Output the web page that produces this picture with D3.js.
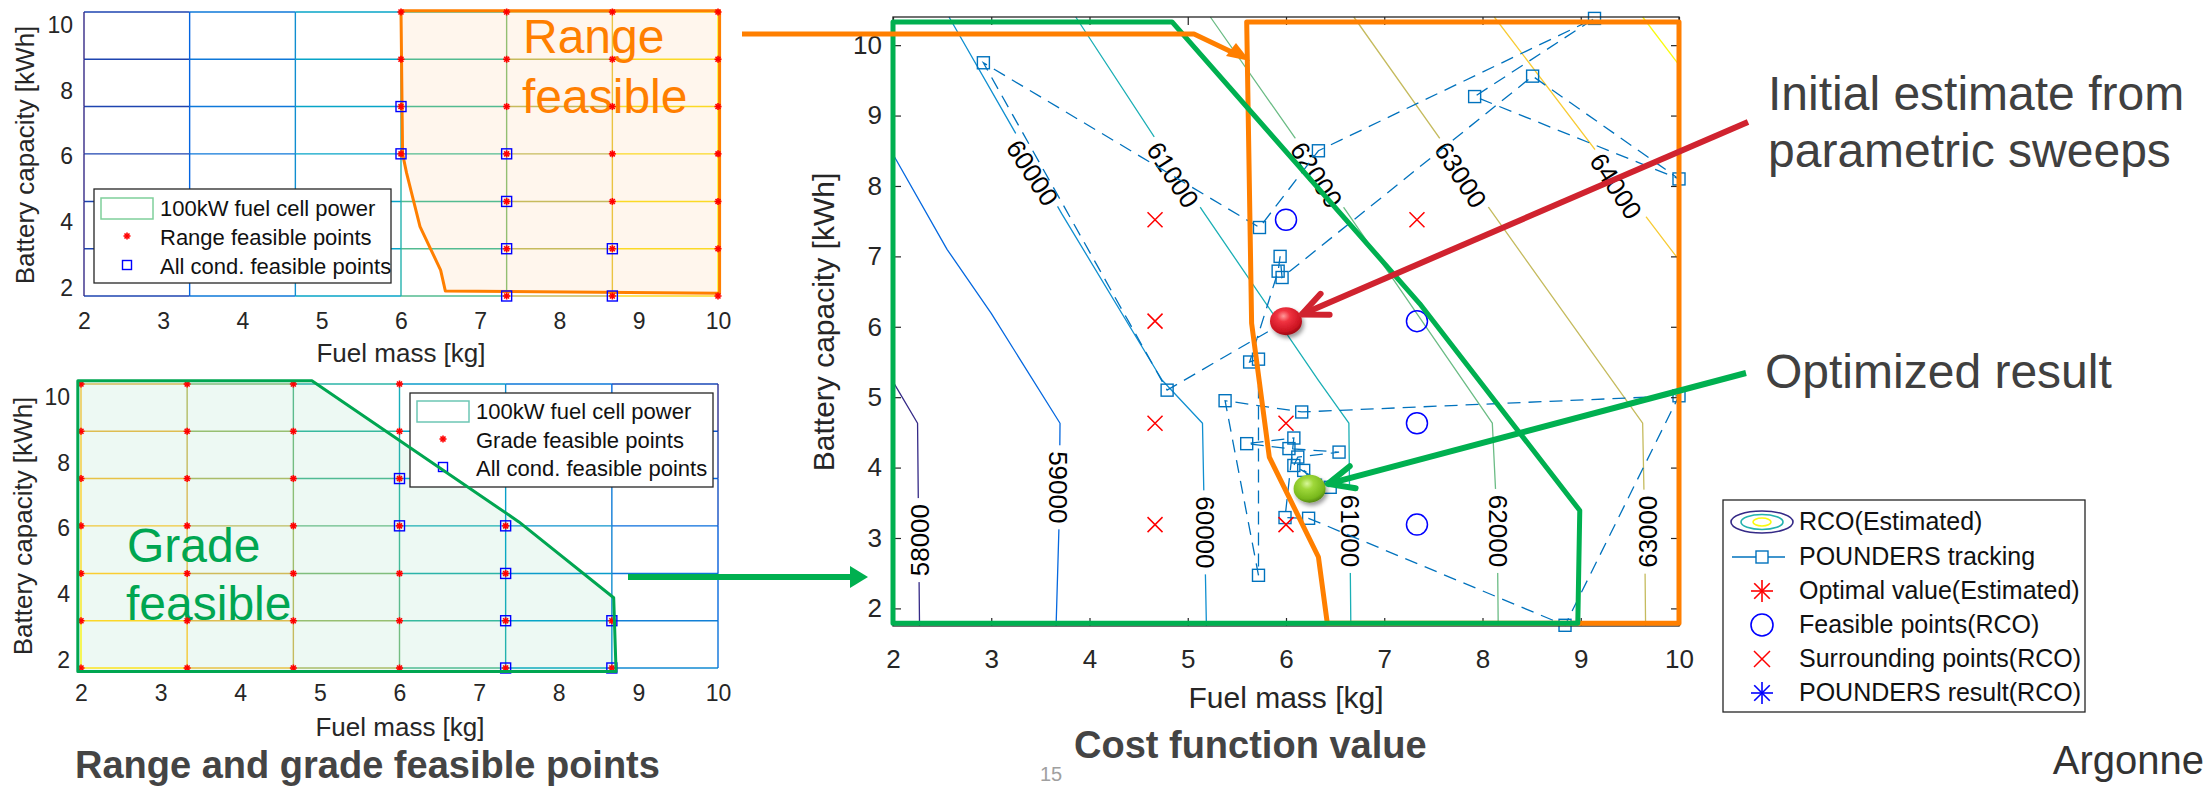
<!DOCTYPE html>
<html>
<head>
<meta charset="utf-8">
<script src="https://cdn.jsdelivr.net/npm/d3@7/dist/d3.min.js"></script>
<style>
  html, body { margin: 0; padding: 0; background: #ffffff; }
  svg { display: block; }
  text { font-family: "Liberation Sans", Arial, Helvetica, sans-serif; }
</style>
</head>
<body>
<svg id="chart" width="2208" height="786"></svg>
<script>
// ---------- sampling grid shared by the two feasibility maps ----------
const gridFuel = [2, 3.333, 4.667, 6, 7.333, 8.667, 10];
const gridBattery = [1.75, 3.19, 4.63, 6.08, 7.52, 8.96, 10.4];

const fuelTicks = [2, 3, 4, 5, 6, 7, 8, 9, 10];
const batteryTicksSide = [2, 4, 6, 8, 10];
const batteryTicksMain = [2, 3, 4, 5, 6, 7, 8, 9, 10];

// design points meeting the range requirement
const rangeFeasiblePts = [
  [6, 6.08], [6, 7.52], [6, 8.96], [6, 10.4],
  [7.333, 1.75], [7.333, 3.19], [7.333, 4.63], [7.333, 6.08], [7.333, 7.52], [7.333, 8.96], [7.333, 10.4],
  [8.667, 1.75], [8.667, 3.19], [8.667, 4.63], [8.667, 6.08], [8.667, 7.52], [8.667, 8.96], [8.667, 10.4],
  [10, 1.75], [10, 3.19], [10, 4.63], [10, 6.08], [10, 7.52], [10, 8.96], [10, 10.4]
];

// design points meeting the grade requirement
const gradeFeasiblePts = [
  [2, 1.75], [2, 3.19], [2, 4.63], [2, 6.08], [2, 7.52], [2, 8.96], [2, 10.4],
  [3.333, 1.75], [3.333, 3.19], [3.333, 4.63], [3.333, 6.08], [3.333, 7.52], [3.333, 8.96], [3.333, 10.4],
  [4.667, 1.75], [4.667, 3.19], [4.667, 4.63], [4.667, 6.08], [4.667, 7.52], [4.667, 8.96], [4.667, 10.4],
  [6, 1.75], [6, 3.19], [6, 4.63], [6, 6.08], [6, 7.52], [6, 8.96], [6, 10.4],
  [7.333, 1.75], [7.333, 3.19], [7.333, 4.63], [7.333, 6.08],
  [8.667, 1.75], [8.667, 3.19]
];

// points meeting every condition
const allCondFeasiblePts = [
  [6, 7.52], [6, 6.08], [7.333, 6.08], [7.333, 4.63],
  [7.333, 3.19], [7.333, 1.75], [8.667, 3.19], [8.667, 1.75]
];

// feasibility boundaries (100 kW fuel cell)
const rangeLimitSide = [[6.0, 10.44], [6.02, 6.08], [6.07, 5.5], [6.24, 3.86], [6.5, 2.54], [6.56, 1.9], [10.02, 1.83], [10.02, 10.44]];
const gradeLimitSide = [[1.96, 1.64], [1.96, 10.5], [4.9, 10.5], [7.5, 6.2], [8.69, 3.89], [8.72, 1.64]];
const rangeLimitMain = [[5.6, 10.33], [5.65, 6.05], [5.83, 4.15], [6.33, 2.73], [6.42, 1.79], [10.0, 1.79], [10.0, 10.33]];
const gradeLimitMain = [[2.0, 1.79], [2.0, 10.33], [4.84, 10.33], [7.36, 6.33], [8.99, 3.39], [8.97, 1.79]];

// cost function iso-lines
const costLevels = [58000, 59000, 60000, 61000, 62000, 63000, 64000, 65000];
const costLines = [
  [[2.0, 5.22], [2.25, 4.63], [2.27, 1.75]],
  [[2.0, 8.45], [2.55, 7.1], [3.0, 6.19], [3.7, 4.63], [3.69, 3.19], [3.66, 1.75]],
  [[2.57, 10.4], [3.72, 7.6], [4.74, 5.24], [5.15, 4.63], [5.17, 3.19], [5.19, 1.75]],
  [[3.86, 10.4], [5.15, 7.65], [6.33, 5.24], [6.64, 4.63], [6.65, 3.19], [6.66, 1.75]],
  [[5.23, 10.4], [6.61, 7.65], [8.1, 4.63], [8.15, 3.19], [8.16, 1.75]],
  [[6.69, 10.4], [8.1, 7.62], [9.63, 4.63], [9.65, 3.19], [9.66, 1.75]],
  [[8.12, 10.4], [9.95, 7.04], [10.0, 6.95]],
  [[9.63, 10.4], [10.0, 9.72]]
];
// inline labels: level, position and text angle
const costLabels = [
  { level: 60000, x: 3.42, y: 8.19, angle: 57 },
  { level: 61000, x: 4.85, y: 8.16, angle: 57 },
  { level: 62000, x: 6.31, y: 8.16, angle: 57 },
  { level: 63000, x: 7.78, y: 8.16, angle: 57 },
  { level: 64000, x: 9.36, y: 8.0, angle: 57 },
  { level: 58000, x: 2.27, y: 2.97, angle: -90 },
  { level: 59000, x: 3.68, y: 3.72, angle: 90 },
  { level: 60000, x: 5.18, y: 3.08, angle: 90 },
  { level: 61000, x: 6.66, y: 3.1, angle: 90 },
  { level: 62000, x: 8.16, y: 3.1, angle: 90 },
  { level: 63000, x: 9.68, y: 3.09, angle: -90 }
];

// POUNDERS evaluation sequence
const trackPts = [
  [6.00, 6.08], [4.79, 5.10], [2.92, 9.75], [5.73, 7.41], [6.33, 8.50], [9.14, 10.38],
  [7.92, 9.27], [10.0, 8.10], [8.51, 9.56], [5.96, 6.70], [5.94, 7.00], [5.92, 6.79],
  [5.63, 5.50], [5.72, 5.54], [5.72, 2.47], [5.38, 4.95], [6.16, 4.79], [10.0, 5.02],
  [8.84, 1.76], [6.23, 3.28], [5.99, 3.29], [6.08, 4.42], [5.60, 4.34], [6.03, 4.27],
  [6.54, 4.22], [6.12, 4.15], [6.08, 4.03], [6.45, 3.72], [6.18, 3.96], [6.30, 3.75], [6.24, 3.70]
];
const surroundingPts = [[4.667, 7.52], [4.667, 6.08], [4.667, 4.63], [4.667, 3.19], [7.333, 7.52], [6, 4.63], [6, 3.19]];
const rcoFeasiblePts = [[6, 7.52], [7.333, 6.08], [7.333, 4.63], [7.333, 3.19]];
const initialEstimate = [6.0, 6.08];
const optimizedResult = [6.24, 3.70];

// ---------- helpers ----------
const parula = d3.piecewise(d3.interpolateRgb, ["#352a87", "#0363e1", "#1485d4", "#06a7c6", "#38b99e", "#92bf73", "#d9ba56", "#fcce2e", "#f9fb0e"]);
const clamp01 = v => Math.max(0, Math.min(1, v));
const FONT = '"Liberation Sans", Arial, Helvetica, sans-serif';

const svg = d3.select("#chart");
const defs = svg.append("defs");

function star(g, cx, cy, r, color, sw) {
  const s = g.append("g").attr("stroke", color).attr("stroke-width", sw).attr("stroke-linecap", "butt");
  const d = r * Math.SQRT1_2;
  [[r, 0], [0, r], [d, d], [d, -d]].forEach(([dx, dy]) =>
    s.append("line").attr("x1", cx - dx).attr("y1", cy - dy).attr("x2", cx + dx).attr("y2", cy + dy));
}
function square(g, cx, cy, side, color, sw) {
  g.append("rect").attr("x", cx - side / 2).attr("y", cy - side / 2).attr("width", side).attr("height", side)
    .attr("fill", "none").attr("stroke", color).attr("stroke-width", sw);
}
function xmark(g, cx, cy, r, color, sw) {
  g.append("path").attr("d", `M${cx - r},${cy - r}L${cx + r},${cy + r}M${cx - r},${cy + r}L${cx + r},${cy - r}`)
    .attr("stroke", color).attr("stroke-width", sw).attr("fill", "none");
}

function drawMesh(g, xs, ys, tH, tV) {
  gridBattery.forEach((yv, j) => {
    for (let i = 0; i < gridFuel.length - 1; i++) {
      g.append("line").attr("x1", xs(gridFuel[i])).attr("x2", xs(gridFuel[i + 1]))
        .attr("y1", ys(yv)).attr("y2", ys(yv))
        .attr("stroke", parula(clamp01(tH(i, j)))).attr("stroke-width", 1.4);
    }
  });
  gridFuel.forEach((xv, i) => {
    for (let j = 0; j < gridBattery.length - 1; j++) {
      g.append("line").attr("x1", xs(xv)).attr("x2", xs(xv))
        .attr("y1", ys(gridBattery[j])).attr("y2", ys(gridBattery[j + 1]))
        .attr("stroke", parula(clamp01(tV(i, j)))).attr("stroke-width", 1.4);
    }
  });
}

function sideAxes(g, xs, ys, labelBase, xLabelX, yLabelX, yLabelY) {
  const ax = g.append("g").attr("transform", `translate(0,${ys.range()[0]})`)
    .call(d3.axisBottom(xs).tickValues(fuelTicks).tickSize(0).tickPadding(17));
  ax.select(".domain").remove();
  ax.attr("font-size", 23).attr("font-family", FONT).selectAll("text").attr("fill", "#262626");
  const ay = g.append("g").attr("transform", `translate(${xs.range()[0]},0)`)
    .call(d3.axisLeft(ys).tickValues(batteryTicksSide).tickSize(0).tickPadding(11));
  ay.select(".domain").remove();
  ay.attr("font-size", 23).attr("font-family", FONT).selectAll("text").attr("fill", "#262626");
  g.append("text").attr("x", xLabelX).attr("y", labelBase).attr("text-anchor", "middle")
    .attr("font-size", 26).attr("fill", "#262626").text("Fuel mass [kg]");
  g.append("text").attr("transform", `translate(${yLabelX},${yLabelY}) rotate(-90)`).attr("text-anchor", "middle")
    .attr("font-size", 26).attr("fill", "#262626").text("Battery capacity [kWh]");
}

function sideLegend(g, box, entries, rectStroke, feasibleLabel) {
  g.append("rect").attr("x", box.x).attr("y", box.y).attr("width", box.w).attr("height", box.h)
    .attr("fill", "#ffffff").attr("stroke", "#262626").attr("stroke-width", 1.3);
  const sx = box.x + 33, tx = box.x + 66;
  g.append("rect").attr("x", box.x + 7).attr("y", entries[0] - 11).attr("width", 52).attr("height", 21)
    .attr("fill", "#ffffff").attr("stroke", rectStroke).attr("stroke-width", 1.5);
  star(g, sx, entries[1] - 2, 3.5, "#ff0000", 1.6);
  square(g, sx, entries[2] - 2, 9, "#0000ff", 1.4);
  const labels = ["100kW fuel cell power", feasibleLabel, "All cond. feasible points"];
  labels.forEach((t, k) => g.append("text").attr("x", tx).attr("y", entries[k] + 7)
    .attr("font-size", 22).attr("fill", "#111").text(t));
}

const line = (xs, ys) => d3.line().x(d => xs(d[0])).y(d => ys(d[1]));

// ================= top map: range feasibility =================
{
  const xs = d3.scaleLinear([2, 10], [84, 718]);
  const ys = d3.scaleLinear([1.75, 10.4], [296, 12]);
  const g = svg.append("g");
  g.append("path").datum(rangeLimitSide).attr("d", line(xs, ys).curve(d3.curveLinearClosed))
    .attr("fill", "#ff7f00").attr("fill-opacity", 0.07).attr("stroke", "none");
  drawMesh(g, xs, ys,
    (i, j) => Math.pow((i + 0.5) / 6, 1.15),
    (i, j) => Math.pow(i / 6, 1.15));
  g.append("text").attr("x", 523).attr("y", 53).attr("font-size", 48).attr("fill", "#ff7f00").text("Range");
  g.append("text").attr("x", 522).attr("y", 113).attr("font-size", 48).attr("fill", "#ff7f00").text("feasible");
  g.append("path").datum(rangeLimitSide).attr("d", line(xs, ys).curve(d3.curveLinearClosed))
    .attr("fill", "none").attr("stroke", "#ff7f00").attr("stroke-width", 3).attr("stroke-linejoin", "round");
  rangeFeasiblePts.forEach(p => star(g, xs(p[0]), ys(p[1]), 3.5, "#ff0000", 1.6));
  allCondFeasiblePts.forEach(p => square(g, xs(p[0]), ys(p[1]), 10, "#0000ff", 1.4));
  sideAxes(g, xs, ys, 362, 401, 34, 155);
  sideLegend(g, { x: 94, y: 189, w: 297, h: 94 }, [209, 238, 267], "#7fcf9b", "Range feasible points");
}

// ================= bottom map: grade feasibility =================
{
  const xs = d3.scaleLinear([2, 10], [81, 718]);
  const ys = d3.scaleLinear([1.75, 10.4], [668, 384]);
  const g = svg.append("g");
  g.append("path").datum(gradeLimitSide).attr("d", line(xs, ys).curve(d3.curveLinearClosed))
    .attr("fill", "#00a651").attr("fill-opacity", 0.07).attr("stroke", "none");
  drawMesh(g, xs, ys,
    (i, j) => 1 - ((i + 0.5) / 6) * 0.8 - (j / 6) * 0.2,
    (i, j) => 1 - (i / 6) * 0.8 - ((j + 0.5) / 6) * 0.2);
  g.append("text").attr("x", 127).attr("y", 562).attr("font-size", 48).attr("fill", "#00a651").text("Grade");
  g.append("text").attr("x", 126).attr("y", 620).attr("font-size", 48).attr("fill", "#00a651").text("feasible");
  gradeFeasiblePts.forEach(p => star(g, xs(p[0]), ys(p[1]), 3.5, "#ff0000", 1.6));
  allCondFeasiblePts.forEach(p => square(g, xs(p[0]), ys(p[1]), 10, "#0000ff", 1.4));
  sideAxes(g, xs, ys, 736, 400, 32, 526);
  sideLegend(g, { x: 410, y: 393, w: 303, h: 94 }, [412, 441, 469], "#6cc6b4", "Grade feasible points");
  g.append("path").datum(gradeLimitSide).attr("d", line(xs, ys).curve(d3.curveLinearClosed))
    .attr("fill", "none").attr("stroke", "#00a651").attr("stroke-width", 3).attr("stroke-linejoin", "round");
  g.append("text").attr("x", 75).attr("y", 778).attr("font-size", 38).attr("font-weight", "bold")
    .attr("fill", "#444444").text("Range and grade feasible points");
}

// ================= center: cost function with optimizer path =================
const xC = d3.scaleLinear([2, 10], [893, 1679]);
const yC = d3.scaleLinear([1.75, 10.4], [626, 17]);
{
  const g = svg.append("g");
  const levelColor = d3.scaleLinear([58000, 65000], [0, 1]);

  // gaps in the iso-lines where their labels sit
  const mask = defs.append("mask").attr("id", "labelGaps").attr("maskUnits", "userSpaceOnUse")
    .attr("x", 0).attr("y", 0).attr("width", 2208).attr("height", 786);
  mask.append("rect").attr("width", 2208).attr("height", 786).attr("fill", "#fff");
  costLabels.forEach(l => mask.append("rect").attr("x", -42).attr("y", -12).attr("width", 84).attr("height", 24)
    .attr("fill", "#000").attr("transform", `translate(${xC(l.x)},${yC(l.y)}) rotate(${l.angle})`));

  const lines = g.append("g").attr("mask", "url(#labelGaps)");
  costLines.forEach((pts, k) => lines.append("path").datum(pts).attr("d", line(xC, yC))
    .attr("fill", "none").attr("stroke", parula(levelColor(costLevels[k]))).attr("stroke-width", 1.3)
    .attr("stroke-linejoin", "round"));
  costLabels.forEach(l => g.append("text")
    .attr("transform", `translate(${xC(l.x)},${yC(l.y)}) rotate(${l.angle})`)
    .attr("text-anchor", "middle").attr("dy", "0.36em").attr("font-size", 26).attr("fill", "#000")
    .text(l.level));

  // optimizer trajectory
  g.append("path").datum(trackPts).attr("d", line(xC, yC)).attr("fill", "none")
    .attr("stroke", "#0072bd").attr("stroke-width", 1.3).attr("stroke-dasharray", "13,8");
  trackPts.forEach(p => square(g, xC(p[0]), yC(p[1]), 12, "#0072bd", 1.4));

  surroundingPts.forEach(p => xmark(g, xC(p[0]), yC(p[1]), 7.5, "#ff0000", 1.5));
  rcoFeasiblePts.forEach(p => g.append("circle").attr("cx", xC(p[0])).attr("cy", yC(p[1])).attr("r", 10.5)
    .attr("fill", "none").attr("stroke", "#0000ff").attr("stroke-width", 1.5));
  star(g, xC(initialEstimate[0]), yC(initialEstimate[1]), 10, "#ff0000", 1.5);
  star(g, xC(optimizedResult[0]), yC(optimizedResult[1]), 10, "#0000ff", 1.5);

  // axes box with inward ticks
  const axB = g.append("g").attr("transform", `translate(0,${yC.range()[0]})`)
    .call(d3.axisBottom(xC).tickValues(fuelTicks).tickSizeInner(-8).tickSizeOuter(0).tickPadding(24));
  const axT = g.append("g").attr("transform", `translate(0,${yC.range()[1]})`)
    .call(d3.axisTop(xC).tickValues(fuelTicks).tickSizeInner(-8).tickSizeOuter(0).tickFormat(() => ""));
  const axL = g.append("g").attr("transform", `translate(${xC.range()[0]},0)`)
    .call(d3.axisLeft(yC).tickValues(batteryTicksMain).tickSizeInner(-8).tickSizeOuter(0).tickPadding(11));
  const axR = g.append("g").attr("transform", `translate(${xC.range()[1]},0)`)
    .call(d3.axisRight(yC).tickValues(batteryTicksMain).tickSizeInner(-8).tickSizeOuter(0).tickFormat(() => ""));
  [axB, axT, axL, axR].forEach(a => {
    a.select(".domain").remove();
    a.attr("font-size", 26).attr("font-family", FONT);
    a.selectAll("line").attr("stroke", "#262626").attr("stroke-width", 1.2);
    a.selectAll("text").attr("fill", "#262626");
  });
  g.append("rect").attr("x", xC.range()[0]).attr("y", yC.range()[1])
    .attr("width", xC.range()[1] - xC.range()[0]).attr("height", yC.range()[0] - yC.range()[1])
    .attr("fill", "none").attr("stroke", "#262626").attr("stroke-width", 1.3);

  g.append("text").attr("x", 1286).attr("y", 708).attr("text-anchor", "middle").attr("font-size", 30)
    .attr("fill", "#262626").text("Fuel mass [kg]");
  g.append("text").attr("transform", "translate(834,322) rotate(-90)").attr("text-anchor", "middle")
    .attr("font-size", 30).attr("fill", "#262626").text("Battery capacity [kWh]");

  // feasibility boundaries overlaid
  g.append("path").datum(rangeLimitMain).attr("d", line(xC, yC).curve(d3.curveLinearClosed))
    .attr("fill", "none").attr("stroke", "#ff7f00").attr("stroke-width", 5).attr("stroke-linejoin", "round");
  g.append("path").datum(gradeLimitMain).attr("d", line(xC, yC).curve(d3.curveLinearClosed))
    .attr("fill", "none").attr("stroke", "#00b050").attr("stroke-width", 5).attr("stroke-linejoin", "round");

  // legend
  const L = g.append("g");
  L.append("rect").attr("x", 1723).attr("y", 500).attr("width", 362).attr("height", 212)
    .attr("fill", "#ffffff").attr("stroke", "#262626").attr("stroke-width", 1.3);
  const rows = [522, 557, 591, 625, 659, 693];
  const sx = 1762, tx = 1799;
  [[31, 11, parula(0)], [21, 7.5, parula(0.45)], [9, 4, parula(1)]].forEach(([rx, ry, c]) =>
    L.append("ellipse").attr("cx", sx).attr("cy", rows[0]).attr("rx", rx).attr("ry", ry)
      .attr("fill", "none").attr("stroke", c).attr("stroke-width", 1.6));
  L.append("line").attr("x1", 1732).attr("x2", 1785).attr("y1", rows[1]).attr("y2", rows[1])
    .attr("stroke", "#0072bd").attr("stroke-width", 1.5);
  L.append("rect").attr("x", sx - 6).attr("y", rows[1] - 6).attr("width", 12).attr("height", 12)
    .attr("fill", "#ffffff").attr("stroke", "#0072bd").attr("stroke-width", 1.4);
  star(L, sx, rows[2], 11, "#ff0000", 1.6);
  L.append("circle").attr("cx", sx).attr("cy", rows[3]).attr("r", 11).attr("fill", "none")
    .attr("stroke", "#0000ff").attr("stroke-width", 1.6);
  xmark(L, sx, rows[4], 8, "#ff0000", 1.5);
  star(L, sx, rows[5], 11, "#0000ff", 1.6);
  ["RCO(Estimated)", "POUNDERS tracking", "Optimal value(Estimated)", "Feasible points(RCO)",
    "Surrounding points(RCO)", "POUNDERS result(RCO)"].forEach((t, k) =>
    L.append("text").attr("x", tx).attr("y", rows[k] + 8).attr("font-size", 25).attr("fill", "#111").text(t));

  g.append("text").attr("x", 1074).attr("y", 758).attr("font-size", 38).attr("font-weight", "bold")
    .attr("fill", "#444444").text("Cost function value");
}

// ================= highlighted points and call-outs =================
{
  const g = svg.append("g");
  const shadow = defs.append("filter").attr("id", "ballShadow").attr("x", "-50%").attr("y", "-50%")
    .attr("width", "200%").attr("height", "200%");
  shadow.append("feDropShadow").attr("dx", 2).attr("dy", 3).attr("stdDeviation", 2)
    .attr("flood-color", "#000").attr("flood-opacity", 0.4);
  const grad = (id, stops) => {
    const rg = defs.append("radialGradient").attr("id", id).attr("cx", "42%").attr("cy", "32%").attr("r", "68%");
    stops.forEach(([o, c]) => rg.append("stop").attr("offset", o).attr("stop-color", c));
  };
  grad("ballRed", [["0%", "#ff9a9a"], ["30%", "#f03340"], ["80%", "#cc1422"], ["100%", "#9e0a14"]]);
  grad("ballGreen", [["0%", "#d8f79a"], ["30%", "#9fd83a"], ["80%", "#78b81c"], ["100%", "#558a10"]]);

  const ball = (p, fill) => g.append("ellipse").attr("cx", xC(p[0])).attr("cy", yC(p[1]))
    .attr("rx", 16).attr("ry", 14).attr("fill", `url(#${fill})`).attr("filter", "url(#ballShadow)");
  ball(initialEstimate, "ballRed");
  ball(optimizedResult, "ballGreen");

  // arrow with open chevron head, ending at the edge of a point
  function pointer(x0, y0, p, color, width, gap) {
    const tx = xC(p[0]), ty = yC(p[1]);
    const ang = Math.atan2(ty - y0, tx - x0);
    const ex = tx - Math.cos(ang) * gap, ey = ty - Math.sin(ang) * gap;
    g.append("line").attr("x1", x0).attr("y1", y0).attr("x2", ex).attr("y2", ey)
      .attr("stroke", color).attr("stroke-width", width);
    const len = 28, spread = 0.42;
    const pts = [
      [ex - Math.cos(ang - spread) * len, ey - Math.sin(ang - spread) * len],
      [ex, ey],
      [ex - Math.cos(ang + spread) * len, ey - Math.sin(ang + spread) * len]
    ];
    g.append("path").attr("d", d3.line()(pts)).attr("fill", "none").attr("stroke", color)
      .attr("stroke-width", width).attr("stroke-linecap", "round").attr("stroke-linejoin", "round");
  }
  pointer(1748, 122, initialEstimate, "#d0232f", 6, 17);
  pointer(1746, 373, optimizedResult, "#00b050", 6, 19);

  // connector from the range map
  g.append("path").attr("d", "M742,34L1194,34L1238,55").attr("fill", "none")
    .attr("stroke", "#ff7f00").attr("stroke-width", 5).attr("stroke-linejoin", "round");
  g.append("path").attr("d", "M1250,61L1226,56L1236,43Z").attr("fill", "#ff7f00");
  // connector from the grade map
  g.append("line").attr("x1", 628).attr("y1", 577).attr("x2", 852).attr("y2", 577)
    .attr("stroke", "#00b050").attr("stroke-width", 6);
  g.append("path").attr("d", "M868,577L850,566L850,588Z").attr("fill", "#00b050");

  const note = (x, y, t) => g.append("text").attr("x", x).attr("y", y).attr("font-size", 48)
    .attr("fill", "#404040").text(t);
  note(1768, 110, "Initial estimate from");
  note(1768, 167, "parametric sweeps");
  note(1765, 388, "Optimized result");

  g.append("text").attr("x", 2204).attr("y", 774).attr("text-anchor", "end").attr("font-size", 40)
    .attr("fill", "#333333").text("Argonne");
  g.append("text").attr("x", 1040).attr("y", 781).attr("font-size", 20).attr("fill", "#a0a0a0").text("15");
}
</script>
</body>
</html>
